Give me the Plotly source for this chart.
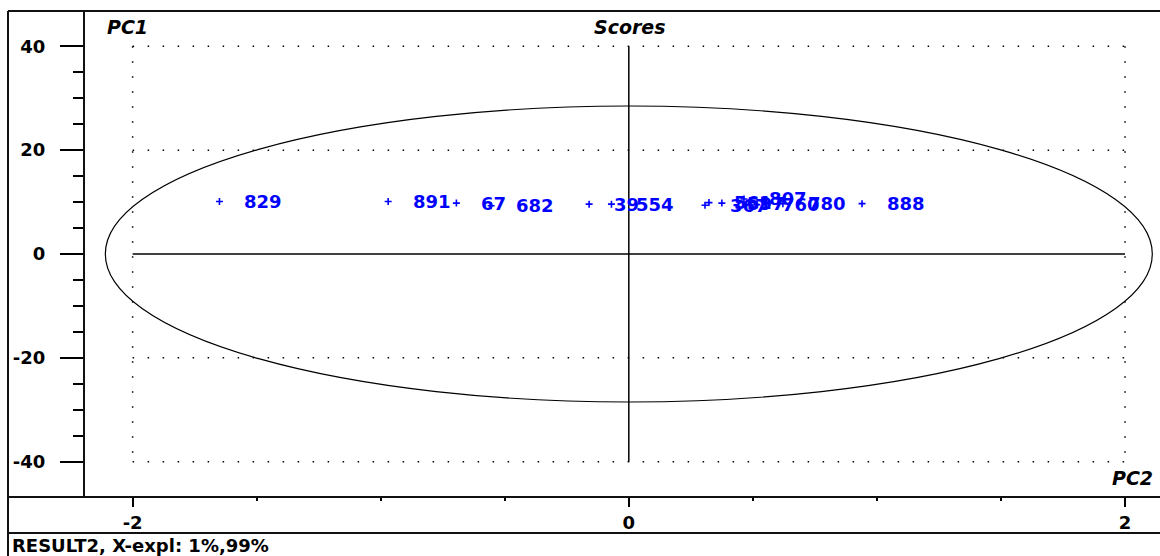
import plotly.graph_objects as go

# Score values (PC2 on x, PC1 on y) and sample labels
sample_labels = ["829", "891", "67", "682", "39", "554",
                 "367", "561", "597", "807", "760", "780", "888"]
pc2_scores = [-1.65, -0.97, -0.695, -0.555, -0.16, -0.07,
              0.307, 0.323, 0.375, 0.464, 0.516, 0.621, 0.94]
pc1_scores = [10.1, 10.1, 9.8, 9.3, 9.6, 9.6,
              9.4, 9.9, 9.8, 10.6, 9.5, 9.7, 9.7]

# Confidence ellipse half-widths
ellipse_pc2 = 2.11
ellipse_pc1 = 28.5

# Axis ticks
y_major = [-40, -20, 0, 20, 40]
y_major_text = ["-40", "-20", "0", "20", "40"]
y_minor = [-35, -30, -25, -15, -10, -5, 5, 10, 15, 25, 30, 35]
x_major = [-2, 0, 2]
x_major_text = ["-2", "0", "2"]
x_minor = [-1.5, -1, -0.5, 0.5, 1, 1.5]
y_grid = [-40, -20, 20, 40]
x_grid = [-2, 2]

W, H = 1160, 556
L, R, T, B = 84, 0, 11, 59
PW, PH = W - L - R, H - T - B

def px_x(p):
    return (p - L) / PW

def px_y(p):
    return (H - B - p) / PH

BLUE = "#0000ff"
NUM_FONT = dict(family="DejaVu Sans", size=18, color="black", weight="bold")
TITLE_FONT = dict(family="DejaVu Sans", size=19, color="black", weight="bold", style="italic")

fig = go.Figure()
fig.add_trace(go.Scatter(
    x=pc2_scores, y=pc1_scores, mode="markers",
    marker=dict(symbol="cross-thin", size=5, line=dict(width=1.6, color=BLUE), color=BLUE),
    hoverinfo="skip", showlegend=False,
))

shapes = []
# dotted grid
for yv in y_grid:
    shapes.append(dict(type="line", xref="x", yref="y", x0=-2, x1=2, y0=yv, y1=yv,
                       line=dict(color="black", width=1.5, dash="1.5px,13.5px"), layer="below"))
for xv in x_grid:
    shapes.append(dict(type="line", xref="x", yref="y", x0=xv, x1=xv, y0=40, y1=-40,
                       line=dict(color="black", width=1.5, dash="1.5px,13.5px"), layer="below"))
# solid centre axes
shapes.append(dict(type="line", xref="x", yref="y", x0=-2, x1=2, y0=0, y1=0,
                   line=dict(color="black", width=1.5)))
shapes.append(dict(type="line", xref="x", yref="y", x0=0, x1=0, y0=-40, y1=40,
                   line=dict(color="black", width=1.5)))
# ellipse
shapes.append(dict(type="circle", xref="x", yref="y",
                   x0=-ellipse_pc2, x1=ellipse_pc2, y0=-ellipse_pc1, y1=ellipse_pc1,
                   line=dict(color="black", width=1.2)))
# frame lines
frame = dict(color="#111111", width=2)
shapes += [
    dict(type="line", xref="paper", yref="paper", x0=px_x(8), x1=px_x(1162), y0=px_y(11), y1=px_y(11), line=frame),
    dict(type="line", xref="paper", yref="paper", x0=px_x(8), x1=px_x(8), y0=px_y(11), y1=px_y(558), line=frame),
    dict(type="line", xref="paper", yref="paper", x0=px_x(84), x1=px_x(84), y0=px_y(11), y1=px_y(497), line=frame),
    dict(type="line", xref="paper", yref="paper", x0=px_x(8), x1=px_x(1162), y0=px_y(497), y1=px_y(497), line=frame),
    dict(type="line", xref="paper", yref="paper", x0=px_x(8), x1=px_x(1162), y0=px_y(533), y1=px_y(533), line=frame),
]

annotations = []
for lab, xv, yv in zip(sample_labels, pc2_scores, pc1_scores):
    annotations.append(dict(x=xv, y=yv, xref="x", yref="y", text=lab, showarrow=False,
                            xanchor="left", yanchor="middle", xshift=23,
                            font=dict(family="DejaVu Sans", size=18, color=BLUE, weight="bold")))
annotations += [
    dict(x=px_x(105), y=px_y(27), xref="paper", yref="paper", text="PC1", showarrow=False,
         xanchor="left", yanchor="middle", font=TITLE_FONT),
    dict(x=px_x(630), y=px_y(27), xref="paper", yref="paper", text="Scores", showarrow=False,
         xanchor="center", yanchor="middle", font=TITLE_FONT),
    dict(x=px_x(1155), y=px_y(478), xref="paper", yref="paper", text="PC2", showarrow=False,
         xanchor="right", yanchor="middle", font=TITLE_FONT),
    dict(x=px_x(11), y=px_y(545), xref="paper", yref="paper", text="RESULT2, X-expl: 1%,99%",
         showarrow=False, xanchor="left", yanchor="middle", borderpad=0,
         font=dict(family="DejaVu Sans", size=18, color="black", weight="bold")),
]

fig.update_layout(
    width=W, height=H, autosize=False,
    margin=dict(l=L, r=R, t=T, b=B, pad=0),
    paper_bgcolor="white", plot_bgcolor="white",
    shapes=shapes, annotations=annotations, showlegend=False,
    xaxis=dict(range=[-2.196, 2.141], tickmode="array", tickvals=x_major, ticktext=x_major_text,
               ticks="outside", ticklen=9, tickwidth=2, tickcolor="black",
               minor=dict(tickmode="array", tickvals=x_minor, ticks="outside", ticklen=3,
                          tickwidth=2, tickcolor="black"),
               tickfont=NUM_FONT, showgrid=False, zeroline=False, showline=False,
               fixedrange=True),
    yaxis=dict(range=[-46.8, 46.8], tickmode="array", tickvals=y_major, ticktext=y_major_text,
               ticks="outside", ticklen=23, tickwidth=2, tickcolor="black",
               minor=dict(tickmode="array", tickvals=y_minor, ticks="outside", ticklen=10,
                          tickwidth=2, tickcolor="black"),
               tickfont=NUM_FONT, ticklabelstandoff=11, showgrid=False, zeroline=False,
               showline=False, fixedrange=True),
)

fig.write_html("out.html", config={"displayModeBar": False})
